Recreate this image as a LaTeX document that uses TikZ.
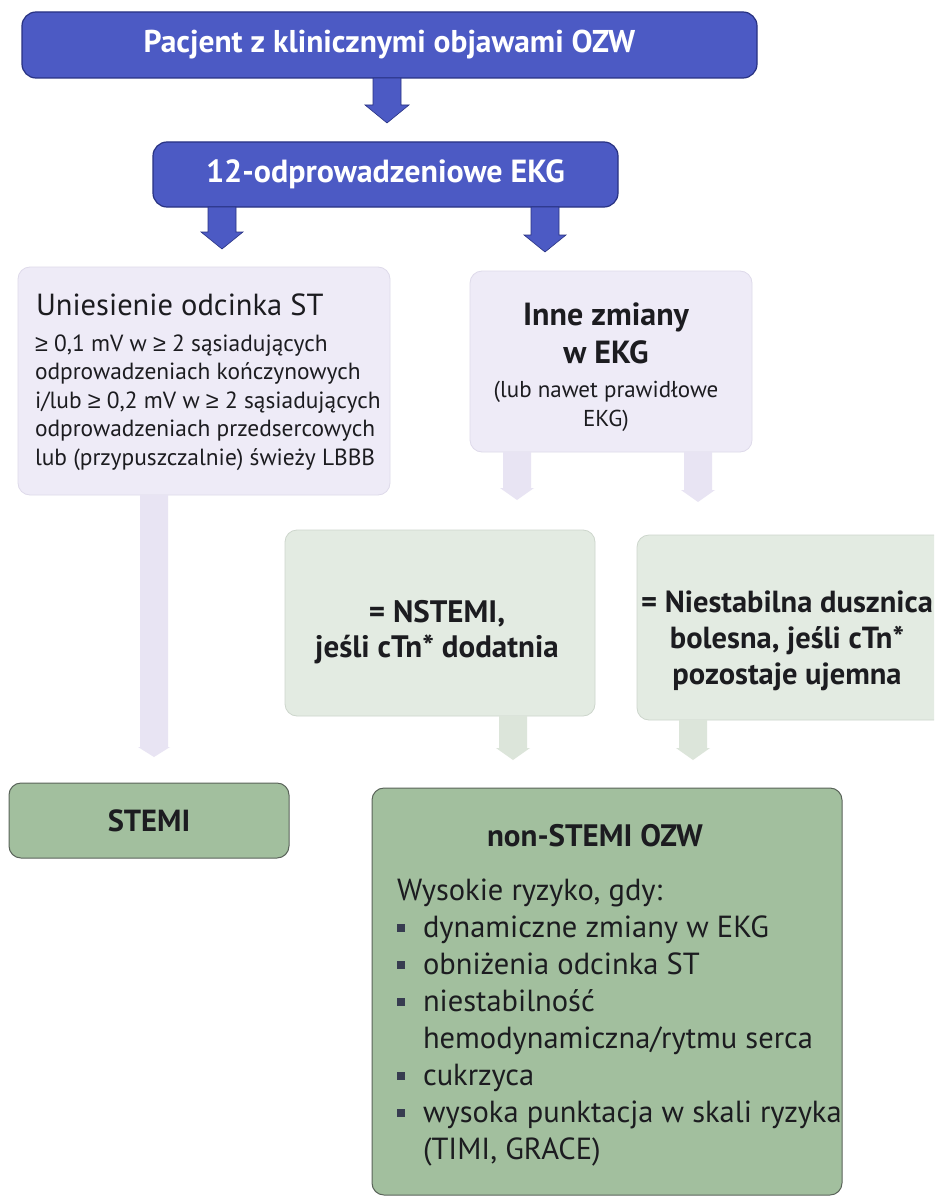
\documentclass[tikz,border=0pt]{standalone}
\usepackage{fontspec}
\setmainfont{PT Sans}
\newfontfamily\symfont{Liberation Sans}
\usetikzlibrary{calc}

\definecolor{ozwblue}{RGB}{76,90,196}
\definecolor{ozwblueline}{RGB}{40,50,130}
\definecolor{lav}{RGB}{238,235,247}
\definecolor{lavline}{RGB}{222,218,234}
\definecolor{lavarrow}{RGB}{232,228,243}
\definecolor{mint}{RGB}{227,235,226}
\definecolor{mintline}{RGB}{205,214,204}
\definecolor{mintarrow}{RGB}{220,229,218}
\definecolor{sage}{RGB}{162,191,158}
\definecolor{sageline}{RGB}{90,100,90}
\definecolor{ink}{RGB}{28,28,32}
\definecolor{bulletc}{RGB}{55,60,80}

% broad downward arrow from the bottom of one node towards the top of another
% #1 style, #2 x, #3 from, #4 to, #5 gap above target, #6 half shaft, #7 half head, #8 head length
\newcommand\fatarrow[8]{%
  \path[#1] let \p1=(#3.south), \p2=(#4.north) in
    (#2pt-#6pt,\y1) -- (#2pt+#6pt,\y1) -- (#2pt+#6pt,\y2+#5pt+#8pt) -- (#2pt+#7pt,\y2+#5pt+#8pt)
    -- (#2pt,\y2+#5pt) -- (#2pt-#7pt,\y2+#5pt+#8pt) -- (#2pt-#6pt,\y2+#5pt+#8pt) -- cycle;}

% square list bullet
\newcommand\sqb{\makebox[26pt][l]{\textcolor{bulletc}{\rule[5pt]{8pt}{8pt}}}}
% upright greater-or-equal sign
\newcommand\gesign{{\symfont ≥}}

\begin{document}
\begin{tikzpicture}[x=1pt,y=-1pt,
  every node/.style={inner sep=0pt, outer sep=0pt},
  bluebox/.style={draw=ozwblueline, line width=1.2pt, fill=ozwblue, rounded corners=14pt,
    text=white},
  lavbox/.style={draw=lavline, line width=0.8pt, fill=lav, rounded corners=12pt},
  mintbox/.style={draw=mintline, line width=0.8pt, fill=mint, rounded corners=12pt},
  sagebox/.style={draw=sageline, line width=1pt, fill=sage, rounded corners=12pt, text=ink},
  bluearrow/.style={fill=ozwblue, draw=ozwblueline, line width=0.6pt},
  lavarrowst/.style={fill=lavarrow},
  mintarrowst/.style={fill=mintarrow},
  txt/.style={text=ink, anchor=base},
]
\useasboundingbox (0,0) rectangle (934,1201);
\fill[white] (0,0) rectangle (934,1201);
\clip (0,0) rectangle (934,1201);

% boxes
\node[bluebox, minimum width=735pt, minimum height=66pt, font=\fontsize{31.5}{34}\selectfont\bfseries] (patient) at (389.5,45) {Pacjent z klinicznymi objawami OZW};
\node[bluebox, minimum width=465pt, minimum height=65pt, font=\fontsize{32}{34}\selectfont\bfseries] (ecg) at (385.5,174.5) {12-odprowadzeniowe EKG};
\node[lavbox, minimum width=372pt, minimum height=228pt] (st) at (204,381) {};
\node[lavbox, minimum width=282pt, minimum height=181pt] (other) at (611,361.5) {};
\node[mintbox, minimum width=310pt, minimum height=186pt] (nstemi) at (440,623) {};
\node[mintbox, minimum width=323pt, minimum height=185pt] (ua) at (798.5,627.5) {};
\node[sagebox, minimum width=280pt, minimum height=75pt, font=\fontsize{30.5}{32}\selectfont\bfseries] (stemi) at (149,820.5) {STEMI};
\node[sagebox, minimum width=470pt, minimum height=407pt] (nonst) at (607,991.5) {};

% connectors
\fatarrow{bluearrow}{387}{patient}{ecg}{19}{14}{22}{18}
\fatarrow{bluearrow}{222}{ecg}{st}{18}{14}{21}{17}
\fatarrow{bluearrow}{545}{ecg}{other}{19}{14}{21}{17}
\fatarrow{lavarrowst}{154}{st}{stemi}{26}{14}{16}{10}
\fatarrow{lavarrowst}{517}{other}{nstemi}{30}{14}{17}{12}
\fatarrow{lavarrowst}{698}{other}{ua}{33}{14}{17}{12}
\fatarrow{mintarrowst}{513}{nstemi}{nonst}{28}{14}{17}{12}
\fatarrow{mintarrowst}{693}{ua}{nonst}{28}{14}{17}{12}

% texts
\node[txt, anchor=base west, font=\fontsize{30.5}{34}\selectfont] (sttitle) at (36,315) {Uniesienie odcinka ST};
\node[txt, anchor=base west, font=\fontsize{23.4}{28.5}\selectfont] (stbody) at (35,351)
  {\begin{tabular}[t]{@{}l@{}}
   \gesign{} 0,1 mV w \gesign{} 2 sąsiadujących\\
   odprowadzeniach kończynowych\\
   i/lub \gesign{} 0,2 mV w \gesign{} 2 sąsiadujących\\
   odprowadzeniach przedsercowych\\
   lub (przypuszczalnie) świeży LBBB
   \end{tabular}};

\node[txt, font=\fontsize{32}{38}\selectfont\bfseries] (othertitle) at (606,325)
  {\begin{tabular}[t]{@{}c@{}}Inne zmiany\\ w EKG\end{tabular}};
\node[txt, font=\fontsize{23}{29}\selectfont] (othernote) at (606,397)
  {\begin{tabular}[t]{@{}c@{}}(lub nawet prawidłowe\\ EKG)\end{tabular}};

\node[txt, font=\fontsize{31}{35}\selectfont\bfseries] (nstxt) at (437,622)
  {\begin{tabular}[t]{@{}c@{}}= NSTEMI,\\ jeśli cTn* dodatnia\end{tabular}};
\node[txt, font=\fontsize{30.5}{36}\selectfont\bfseries] (uatxt) at (787,612)
  {\begin{tabular}[t]{@{}c@{}}= Niestabilna dusznica\\ bolesna, jeśli cTn*\\ pozostaje ujemna\end{tabular}};

\node[txt, font=\fontsize{31}{34}\selectfont\bfseries] (nsttitle) at (595,846) {non-STEMI OZW};
\node[txt, anchor=base west, font=\fontsize{30.5}{37}\selectfont] (nstbody) at (397,900)
  {\begin{tabular}[t]{@{}l@{}}
   Wysokie ryzyko, gdy:\\
   \sqb dynamiczne zmiany w EKG\\
   \sqb obniżenia odcinka ST\\
   \sqb niestabilność\\
   \hspace*{26pt}hemodynamiczna/rytmu serca\\
   \sqb cukrzyca\\
   \sqb wysoka punktacja w skali ryzyka\\
   \hspace*{26pt}(TIMI, GRACE)
   \end{tabular}};
\end{tikzpicture}
\end{document}
